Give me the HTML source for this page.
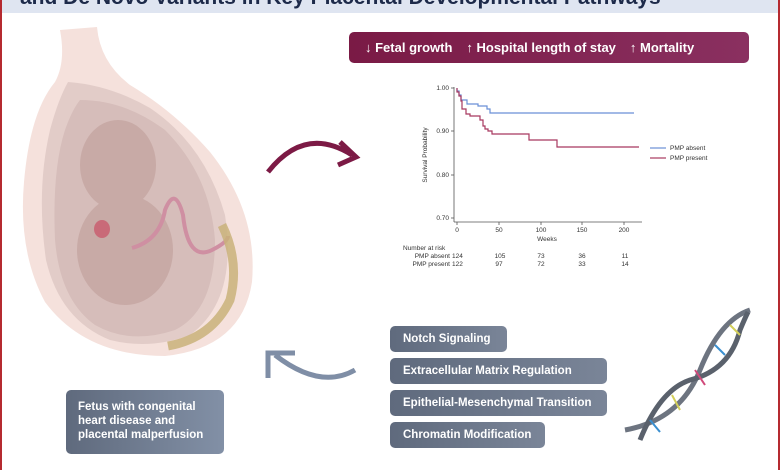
<!DOCTYPE html>
<html><head><meta charset="utf-8"><style>
body{margin:0;width:780px;height:470px;overflow:hidden;background:#fff;font-family:"Liberation Sans",sans-serif;position:relative}
.frame{position:absolute;left:0;top:0;width:776px;height:470px;border-left:2px solid #b52a30;border-right:2px solid #b52a30}
.top{position:absolute;left:2px;top:0;width:776px;height:13px;background:#dfe5f1;overflow:hidden}
.top span{position:absolute;left:18px;top:-14px;font-weight:bold;font-size:21px;color:#1d2a4a;white-space:nowrap}
.pill{position:absolute;left:349px;top:32px;width:400px;height:31px;border-radius:5px;background:linear-gradient(90deg,#7a1a45,#8a3060);color:#fff;font-weight:bold;font-size:13px;line-height:31px;white-space:nowrap}
.box{position:absolute;left:390px;height:26px;border-radius:5px;background:linear-gradient(90deg,#5f6a7d,#7a8598);color:#fff;font-weight:bold;font-size:11.5px;line-height:26px;padding-left:13px;box-sizing:border-box}
.fbox{position:absolute;left:66px;top:390px;width:158px;height:64px;border-radius:5px;background:linear-gradient(90deg,#5f6a7d,#8290a6);color:#fff;font-weight:bold;font-size:11.5px;line-height:14px;padding:10px 0 0 12px;box-sizing:border-box}
svg{position:absolute;left:0;top:0}
</style></head><body>
<div class="top"><span>and De Novo Variants in Key Placental Developmental Pathways</span></div>
<div class="frame"></div>
<svg width="780" height="470">
 <path d="M60 30 L97 27 Q100 62 130 85 Q175 112 210 152 Q258 212 252 282 Q242 348 165 356 Q85 356 45 302 Q18 252 24 182 Q30 112 55 82 Q66 62 60 30Z" fill="#f5e1dc"/>
 <path d="M68 82 Q110 85 150 108 Q205 145 225 215 Q238 300 190 335 Q150 350 110 340 Q60 320 46 260 Q36 190 50 130 Q58 100 68 82Z" fill="#e2ccc8"/>
 <path d="M80 100 Q125 100 165 130 Q210 175 215 240 Q215 310 175 330 Q130 345 95 325 Q60 300 55 240 Q52 170 65 130 Q72 110 80 100Z" fill="#d6bdba"/>
 <ellipse cx="118" cy="165" rx="38" ry="45" fill="#c8aaa6"/>
 <ellipse cx="125" cy="250" rx="48" ry="55" fill="#c8aaa6"/>
 <ellipse cx="102" cy="229" rx="8" ry="9" fill="#c96a78"/>
 <path d="M132 248 Q160 240 165 210 Q175 185 183 215 Q188 262 212 250 Q228 242 228 236" stroke="#cf8fa2" stroke-width="4" fill="none"/>
 <path d="M222 225 Q240 262 230 300 Q212 338 168 346" stroke="#c9b27a" stroke-width="9" fill="none" opacity=".85"/>
 <path d="M268 172 Q305 125 352 155" stroke="#7c1a45" stroke-width="5" fill="none"/>
 <path d="M340 142 L356 157 L338 165" stroke="#7c1a45" stroke-width="5" fill="none"/>
 <path d="M355 370 Q320 390 275 355" stroke="#7f8ea6" stroke-width="5" fill="none"/>
 <path d="M268 378 L268 353 L295 353" stroke="#7f8ea6" stroke-width="5" fill="none"/>
 <path d="M625 430 Q680 420 700 370 Q720 320 750 310" stroke="#6d7480" stroke-width="5" fill="none"/>
 <path d="M640 440 Q660 390 690 380 Q730 370 740 330 Q745 318 748 312" stroke="#5a616c" stroke-width="5" fill="none"/>
 <g stroke-width="2">
  <line x1="650" y1="420" x2="660" y2="432" stroke="#3a8fd0"/><line x1="672" y1="395" x2="680" y2="410" stroke="#d3cf5a"/><line x1="695" y1="370" x2="705" y2="385" stroke="#d04a7a"/><line x1="715" y1="345" x2="725" y2="355" stroke="#3a8fd0"/><line x1="730" y1="325" x2="740" y2="335" stroke="#d3cf5a"/>
 </g>
 <g font-family="Liberation Sans,sans-serif" font-size="6.5" fill="#333">
  <line x1="454" y1="87" x2="454" y2="222" stroke="#555" stroke-width=".8"/>
  <line x1="454" y1="222" x2="642" y2="222" stroke="#555" stroke-width=".8"/>
  <g stroke="#555" stroke-width=".8">
   <line x1="451" y1="88" x2="454" y2="88"/><line x1="451" y1="131" x2="454" y2="131"/><line x1="451" y1="175" x2="454" y2="175"/><line x1="451" y1="218" x2="454" y2="218"/>
   <line x1="457" y1="222" x2="457" y2="225"/><line x1="499" y1="222" x2="499" y2="225"/><line x1="541" y1="222" x2="541" y2="225"/><line x1="582" y1="222" x2="582" y2="225"/><line x1="624" y1="222" x2="624" y2="225"/>
  </g>
  <text x="449" y="90" text-anchor="end">1.00</text><text x="449" y="133" text-anchor="end">0.90</text><text x="449" y="177" text-anchor="end">0.80</text><text x="449" y="220" text-anchor="end">0.70</text>
  <text x="457" y="232" text-anchor="middle">0</text><text x="499" y="232" text-anchor="middle">50</text><text x="541" y="232" text-anchor="middle">100</text><text x="582" y="232" text-anchor="middle">150</text><text x="624" y="232" text-anchor="middle">200</text>
  <text x="547" y="241" text-anchor="middle">Weeks</text>
  <text transform="translate(427,155) rotate(-90)" text-anchor="middle">Survival Probability</text>
  <text x="403" y="250">Number at risk</text>
  <text x="450" y="258" text-anchor="end">PMP absent</text><text x="452" y="258">124</text><text x="500" y="258" text-anchor="middle">105</text><text x="541" y="258" text-anchor="middle">73</text><text x="582" y="258" text-anchor="middle">36</text><text x="625" y="258" text-anchor="middle">11</text>
  <text x="450" y="266" text-anchor="end">PMP present</text><text x="452" y="266">122</text><text x="499" y="266" text-anchor="middle">97</text><text x="541" y="266" text-anchor="middle">72</text><text x="582" y="266" text-anchor="middle">33</text><text x="625" y="266" text-anchor="middle">14</text>
  <line x1="650" y1="148" x2="666" y2="148" stroke="#6a8fd6" stroke-width="1.2"/><text x="670" y="150">PMP absent</text>
  <line x1="650" y1="158" x2="666" y2="158" stroke="#a8385f" stroke-width="1.2"/><text x="670" y="160">PMP present</text>
 </g>
 <path d="M457 88 L457 91 L459 91 L459 95 L461 95 L461 100 L467 100 L467 104 L478 104 L478 106 L487 106 L487 109 L490 109 L490 113 L634 113" stroke="#6a8fd6" stroke-width="1.2" fill="none"/>
 <path d="M457 88 L457 92 L459 92 L459 96 L461 96 L461 101 L462 101 L462 109 L466 109 L466 114 L470 114 L470 116 L480 116 L480 120 L483 120 L483 126 L485 126 L485 129 L488 129 L488 131 L492 131 L492 134 L529 134 L529 140 L557 140 L557 147 L639 147" stroke="#a8385f" stroke-width="1.2" fill="none"/>
</svg>
<div class="pill"><span style="margin-left:16px">↓ Fetal growth</span><span style="margin-left:14px">↑ Hospital length of stay</span><span style="margin-left:14px">↑ Mortality</span></div>
<div class="box" style="top:326px;width:117px">Notch Signaling</div>
<div class="box" style="top:358px;width:217px">Extracellular Matrix Regulation</div>
<div class="box" style="top:390px;width:217px">Epithelial-Mesenchymal Transition</div>
<div class="box" style="top:422px;width:155px">Chromatin Modification</div>
<div class="fbox">Fetus with congenital<br>heart disease and<br>placental malperfusion</div>
</body></html>
